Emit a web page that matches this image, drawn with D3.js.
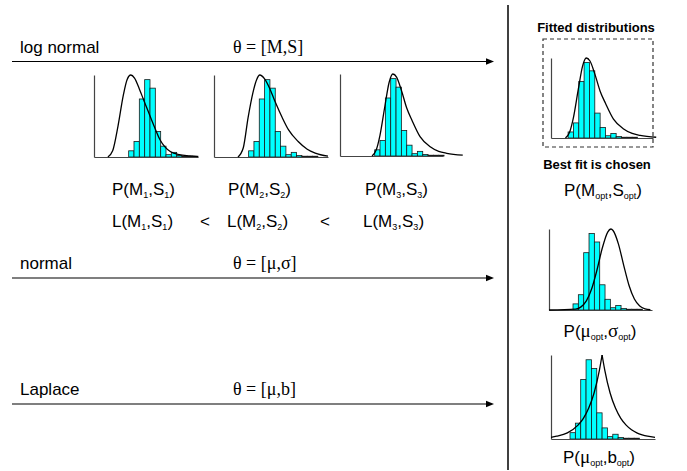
<!doctype html>
<html>
  <head>
    <script src="https://cdnjs.cloudflare.com/ajax/libs/d3/7.8.5/d3.min.js"></script>
  <style>
    body { margin: 0; background: #fff; }
    text { font-family: "Liberation Sans", Arial, sans-serif; fill: #000; }
    .axis path.domain { stroke: #444; stroke-width: 1.2; }
  </style>
  </head>
  <body>
    <svg id="fig" width="687" height="471"></svg>
    <script>
      // histogram shared by every panel (bin centre, count)
      var histBins = [7, 8, 9, 10, 11, 12, 13, 14, 15, 16, 17, 18, 19];
      var histCounts = [8, 20, 75, 100, 89, 33, 14, 3, 6, 2, 1, 1, 1];

      // fitted curves (x in bin units, height on the count scale)
      var logn1X = [2.6, 3.5, 4.5, 5.5, 6.2, 6.9, 7.6, 8.5, 9.3, 10.1, 11.2, 12.4, 13.3, 14.3, 16, 18, 19.5];
      var logn1Y = [0, 8, 40, 80, 100, 106, 102, 88, 74, 60, 41, 22, 13, 7, 3, 1.5, 0.5];
      var logn2X = [4.5, 5.5, 6.4, 7.3, 8.0, 8.6, 9.5, 10.5, 11.5, 12.8, 14, 15.8, 17.5, 19, 21.4];
      var logn2Y = [0, 12, 51, 83, 100, 106, 101, 88, 71, 51, 35, 20, 10, 5, 1];
      var logn3X = [6, 6.8, 7.5, 8.4, 9.2, 9.9, 10.6, 11.5, 12.5, 13.5, 15, 16.9, 18.5, 20, 23];
      var logn3Y = [0, 8, 27, 64, 95, 106, 102, 85, 62, 46, 25, 12, 6, 3.5, 1];
      var normX = [2, 7, 8, 9, 10, 11, 12, 13, 13.6, 14, 15, 16, 17, 18, 19, 20, 21];
      var normY = [0, 1.2, 4.1, 11.9, 27.7, 52.7, 81.4, 102, 106, 104, 86.6, 58.5, 32.1, 14.3, 5.2, 1.5, 0.3];
      var lapLeftX = [2.94, 4, 6, 8, 9, 10, 11, 12, 12.5];
      var lapLeftY = [2.0, 3.5, 7.8, 17.5, 26, 39, 58, 87, 106];
      var lapRightX = [12.5, 13, 14, 15, 16, 17, 18, 19, 20, 21, 22.4];
      var lapRightY = [106, 87, 58, 39, 26, 17.5, 11.7, 7.8, 5.3, 3.5, 2.0];

      var families = ["log normal", "normal", "Laplace"];
      var thetaLabels = ["\u03B8 = [M,S]", "\u03B8 = [\u03BC,\u03C3]", "\u03B8 = [\u03BC,b]"];

      var svg = d3.select("#fig");

      // rows with arrows
      var rowY = [61.5, 278, 404];
      families.forEach(function(f, i) {
        var y = rowY[i];
        svg.append("line")
          .attr("x1", 12).attr("x2", 488).attr("y1", y).attr("y2", y)
          .attr("stroke", "#000").attr("stroke-width", 1.2);
        svg.append("path")
          .attr("d", "M486," + (y - 3.2) + "L494," + y + "L486," + (y + 3.2) + "Z")
          .attr("fill", "#000");
        svg.append("text").attr("x", 20).attr("y", y - 9)
          .style("font-size", "17px").text(f);
        svg.append("text").attr("x", 233).attr("y", y - 9)
          .style("font-family", "'Liberation Serif', 'Times New Roman', serif")
          .style("font-size", "18px").text(thetaLabels[i]);
      });

      // separator
      svg.append("line")
        .attr("x1", 508).attr("x2", 508).attr("y1", 5).attr("y2", 470)
        .attr("stroke", "#000").attr("stroke-width", 1.5);

      function panel(p, curves) {
        var x = d3.scaleLinear().domain(p.dom).range([p.left, p.right]);
        var y = d3.scaleLinear().domain([0, 106]).range([p.bottom, p.top]);
        var g = svg.append("g");
        g.selectAll("rect.bar")
          .data(d3.zip(histBins, histCounts))
          .enter()
          .append("rect")
            .attr("class", "bar")
            .attr("x", d => x(d[0] - 0.5))
            .attr("width", d => x(d[0] + 0.5) - x(d[0] - 0.5))
            .attr("y", d => y(d[1]))
            .attr("height", d => y(0) - y(d[1]))
            .attr("fill", "#00ffff")
            .attr("stroke", "#1a1a1a")
            .attr("stroke-width", 0.8);
        g.append("g").attr("class", "axis")
          .attr("transform", "translate(0," + p.bottom + ")")
          .call(d3.axisBottom(x).tickValues([]).tickSizeOuter(0));
        g.append("g").attr("class", "axis")
          .attr("transform", "translate(" + p.left + ",0)")
          .call(d3.axisLeft(y).tickValues([]).tickSizeOuter(0));
        var line = d3.line()
          .x(d => x(d[0]))
          .y(d => y(d[1]))
          .curve(d3.curveMonotoneX);
        curves.forEach(function(c) {
          g.append("path")
            .attr("d", line(d3.zip(c[0], c[1])))
            .attr("fill", "none")
            .attr("stroke", "#000")
            .attr("stroke-width", 1.3);
        });
      }

      panel({left: 94, right: 198, top: 75, bottom: 157, dom: [0, 19.5]}, [[logn1X, logn1Y]]);
      panel({left: 214, right: 328, top: 75, bottom: 157, dom: [0, 21.4]}, [[logn2X, logn2Y]]);
      panel({left: 340, right: 443, top: 74, bottom: 156, dom: [0, 19.3]}, [[logn3X, logn3Y]]);
      panel({left: 551, right: 653, top: 58, bottom: 138, dom: [3.3, 22.4]}, [[logn3X, logn3Y]]);
      panel({left: 549, right: 652, top: 229, bottom: 310, dom: [2.0, 21.3]}, [[normX, normY]]);
      panel({left: 551, right: 655, top: 355, bottom: 439, dom: [2.94, 22.4]}, [[lapLeftX, lapLeftY], [lapRightX, lapRightY]]);

      // dashed box round the chosen fit
      svg.append("rect")
        .attr("x", 543).attr("y", 39).attr("width", 110).attr("height", 108)
        .attr("fill", "none").attr("stroke", "#333").attr("stroke-width", 1.2)
        .attr("stroke-dasharray", "4,3");

      svg.append("text").attr("x", 596).attr("y", 32).attr("text-anchor", "middle")
        .style("font-size", "13px").style("font-weight", "bold").text("Fitted distributions");
      svg.append("text").attr("x", 597).attr("y", 169).attr("text-anchor", "middle")
        .style("font-size", "13px").style("font-weight", "bold").text("Best fit is chosen");

      // label with subscripts: parts = [text, isSub, isGreek]
      function label(x, y, parts, anchor) {
        var t = svg.append("text").attr("x", x).attr("y", y)
          .attr("text-anchor", anchor || "start").style("font-size", "17px");
        var down = false;
        parts.forEach(function(p) {
          var s = t.append("tspan").text(p[0]);
          if (p[1] && !down) { s.attr("dy", 3).style("font-size", "9px"); down = true; }
          else if (p[1]) { s.style("font-size", "9px"); }
          else if (down) { s.attr("dy", -3); down = false; }
          if (p[2]) s.style("font-family", "'Liberation Serif', 'Times New Roman', serif").style("font-size", "19px");
        });
      }

      var leftLabelX = [112, 228, 365];
      var leftLabelLX = [112, 227, 363];
      [1, 2, 3].forEach(function(k, i) {
        label(leftLabelX[i], 195, [["P(M"], [String(k), 1], [",S"], [String(k), 1], [")"]]);
        label(leftLabelLX[i], 227, [["L(M"], [String(k), 1], [",S"], [String(k), 1], [")"]]);
      });
      svg.append("text").attr("x", 200).attr("y", 227).style("font-size", "17px").text("<");
      svg.append("text").attr("x", 320).attr("y", 227).style("font-size", "17px").text("<");

      label(603, 196, [["P(M"], ["opt", 1], [",S"], ["opt", 1], [")"]], "middle");
      label(600, 337, [["P("], ["\u03BC", 0, 1], ["opt", 1], [","], ["\u03C3", 0, 1], ["opt", 1], [")"]], "middle");
      label(599, 463, [["P("], ["\u03BC", 0, 1], ["opt", 1], [",b"], ["opt", 1], [")"]], "middle");
    </script>
  </body>
</html>
